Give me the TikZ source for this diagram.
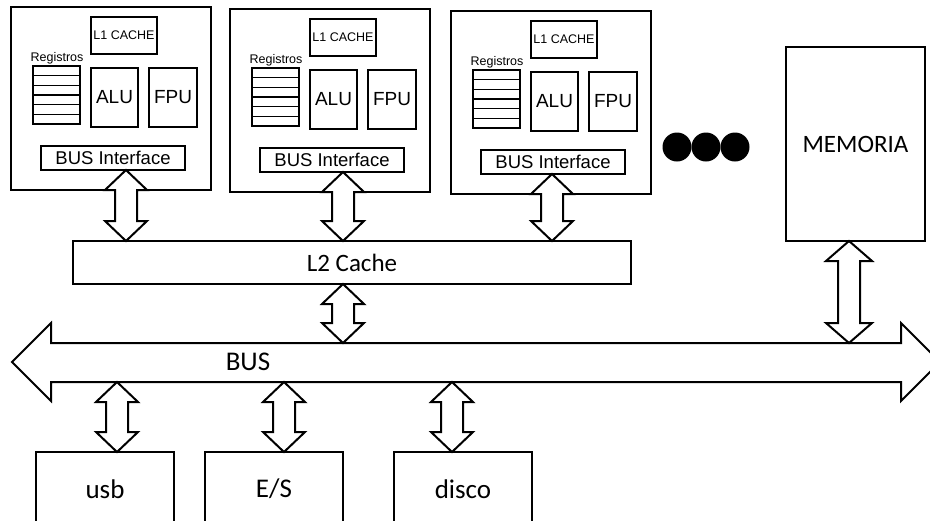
\documentclass[tikz,border=0pt]{standalone}
\usepackage{fontspec}
\setmainfont{Carlito}
\newfontfamily\arialf{Liberation Sans}
\usetikzlibrary{calc}
\tikzset{
 bx/.style={draw, line width=1.3pt, inner sep=0pt, outer sep=0pt, fill=white},
 bigbx/.style={line width=2pt},
 fat/.style={draw, line width=2pt, fill=white, line join=miter},
 cal/.style={font=\fontsize{25}{30}\selectfont},
 calb/.style={font=\fontsize{27}{32}\selectfont},
}
\newcommand\bx[7][]{\node[bx,#1,minimum width={((#5)-(#3))*1pt},minimum height={((#6)-(#4))*1pt}] (#2) at ({((#3)+(#5))/2},{((#4)+(#6))/2}) {#7};}
\newcommand\fatarrow[4][21]{%
 \draw[fat] let \p1=(#3), \p2=(#4) in
  (#2pt,\y1) -- (#2pt+#1pt,\y1-20pt) -- (#2pt+11pt,\y1-20pt) -- (#2pt+11pt,\y2+20pt)
  -- (#2pt+#1pt,\y2+20pt) -- (#2pt,\y2) -- (#2pt-#1pt,\y2+20pt) -- (#2pt-11pt,\y2+20pt)
  -- (#2pt-11pt,\y1-20pt) -- (#2pt-#1pt,\y1-20pt) -- cycle;}
\newcommand\cpu[3]{%
 \begin{scope}[shift={(#2,#3)}]
  \bx{#1}{0}{0}{200}{183}{}
  \bx[font=\arialf\fontsize{12.5}{14}\selectfont]{#1l1}{80}{10}{146}{47}{L1 CACHE}
  \node[font=\arialf\fontsize{12.5}{14}\selectfont, inner sep=0pt] (#1rl) at (46,51) {Registros};
  \foreach \i in {0,...,5} {\bx{#1r\i}{22}{59+9.67*\i}{69}{59+9.67*(\i+1)}{}}
  \bx[font=\arialf\fontsize{19}{22}\selectfont]{#1alu}{80}{61}{127}{120}{ALU}
  \bx[font=\arialf\fontsize{19}{22}\selectfont]{#1fpu}{138}{61}{186}{120}{FPU}
  \bx[font=\arialf\fontsize{18.5}{22}\selectfont]{#1bi}{30}{139}{174}{163}{BUS Interface}
 \end{scope}}
\begin{document}
\begin{tikzpicture}[x=1pt,y=-1pt]
\useasboundingbox (0,0) rectangle (930,520);
\clip (0,0) rectangle (930,520);
\fill[white] (0,0) rectangle (930,520);
\cpu{c1}{11}{7}
\cpu{c2}{230}{9}
\cpu{c3}{451}{11}
\foreach \i/\cx in {1/677,2/706,3/735} \node[circle, fill=black, inner sep=0pt, minimum size=29pt] (dot\i) at (\cx,147) {};
\bx[bigbx,cal]{mem}{786}{47}{925}{241}{MEMORIA}
\bx[bigbx,cal]{l2}{73}{241}{631}{284}{L2 Cache}
\node[inner sep=0pt, outer sep=0pt, minimum width=850pt, minimum height=39pt] (bus) at (476,362.5) {};
\draw[fat] (12,362) -- (51,323) -- (51,343) -- (901,343) -- (901,323) -- (940,362)
  -- (901,401) -- (901,382) -- (51,382) -- (51,401) -- cycle;
\node[calb] (buslbl) at (248,362) {BUS};
\bx[bigbx,calb]{usb}{36}{452}{174}{526}{usb}
\bx[bigbx,calb]{es}{205}{452}{343}{526}{E/S}
\bx[bigbx,calb]{disco}{394}{452}{532}{526}{disco}
\fatarrow{126}{c1bi.south}{l2.north}
\fatarrow{343}{c2bi.south}{l2.north}
\fatarrow{552}{c3bi.south}{l2.north}
\fatarrow{343}{l2.south}{bus.north}
\fatarrow[23]{849}{mem.south}{bus.north}
\fatarrow{117}{bus.south}{usb.north}
\fatarrow{284}{bus.south}{es.north}
\fatarrow{452}{bus.south}{disco.north}
\end{tikzpicture}
\end{document}
